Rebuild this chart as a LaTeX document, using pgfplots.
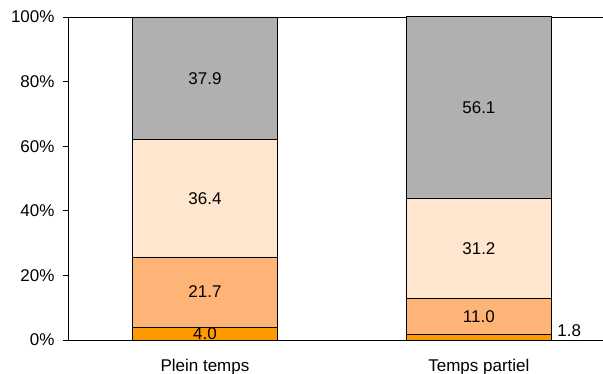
\documentclass[border=0pt]{standalone}
\usepackage{pgfplots}
\usepackage{pgfplotstable}
\pgfplotsset{compat=1.18}
\usepackage{fontspec}
\setmainfont{Liberation Sans}
\definecolor{cA}{HTML}{FF9900}
\definecolor{cB}{HTML}{FFB477}
\definecolor{cC}{HTML}{FFE6CE}
\definecolor{cD}{HTML}{B0B0B0}
\newcommand{\lbl}{\fontsize{17bp}{20bp}\selectfont}
% shares (%) per category: 0 = Plein temps, 1 = Temps partiel
\pgfplotstableread{
x y
0 4.0
1 1.8
}\sA
\pgfplotstableread{
x y
0 21.7
1 11.0
}\sB
\pgfplotstableread{
x y
0 36.4
1 31.2
}\sC
\pgfplotstableread{
x y
0 37.9
1 56.1
}\sD
% label positions (segment middles) and texts
\pgfplotstableread{
x y lab
0 2.0 4.0
0 14.85 21.7
0 43.9 36.4
0 81.05 37.9
1.33 2.8 1.8
1 7.3 11.0
1 28.4 31.2
1 72.05 56.1
}\labels
\begin{document}
\begin{tikzpicture}
\begin{axis}[
  name=ax, at={(0,0)}, anchor=south west,
  width=535bp, height=323bp, scale only axis,
  ybar stacked, bar width=0.53,
  xmin=-0.5, xmax=1.453, ymin=0, ymax=100,
  axis x line*=bottom, axis y line*=left,
  axis line style={black, line width=0.8bp, -},
  xtick={0,1}, xticklabels={Plein temps, Temps partiel},
  major x tick style={draw=none},
  extra x ticks={-0.5,0.5}, extra x tick labels={},
  extra x tick style={tick style={black, line width=0.8bp}, major tick length=6bp, tick align=outside},
  ytick={0,20,...,100},
  yticklabel={\pgfmathprintnumber{\tick}\%},
  /pgf/number format/assume math mode=true,
  tick align=outside, major tick length=5bp,
  ytick style={black, line width=0.8bp},
  extra y ticks={100}, extra y tick labels={},
  extra y tick style={grid=major, major grid style={black, line width=0.8bp}, major tick length=0},
  ticklabel style={font=\lbl, text=black},
  xticklabel style={yshift=-11bp},
  yticklabel style={xshift=-5bp},
  every axis plot/.append style={draw=black, line width=0.6bp},
  clip=false,
]
\addplot[fill=cA] table[x=x,y=y] {\sA};
\addplot[fill=cB] table[x=x,y=y] {\sB};
\addplot[fill=cC] table[x=x,y=y] {\sC};
\addplot[fill=cD] table[x=x,y=y] {\sD};
\end{axis}
\begin{axis}[
  at={(0,0)}, anchor=south west,
  width=535bp, height=323bp, scale only axis,
  xmin=-0.5, xmax=1.453, ymin=0, ymax=100,
  hide axis, clip=false,
]
\addplot[only marks, mark=none, point meta=explicit symbolic,
  nodes near coords,
  every node near coord/.style={font=\lbl, text=black, anchor=center}]
  table[x=x,y=y,meta=lab] {\labels};
\end{axis}
\pgfresetboundingbox
\path[use as bounding box] (-68bp,-34bp) rectangle (535bp,340bp);
\end{tikzpicture}
\end{document}
